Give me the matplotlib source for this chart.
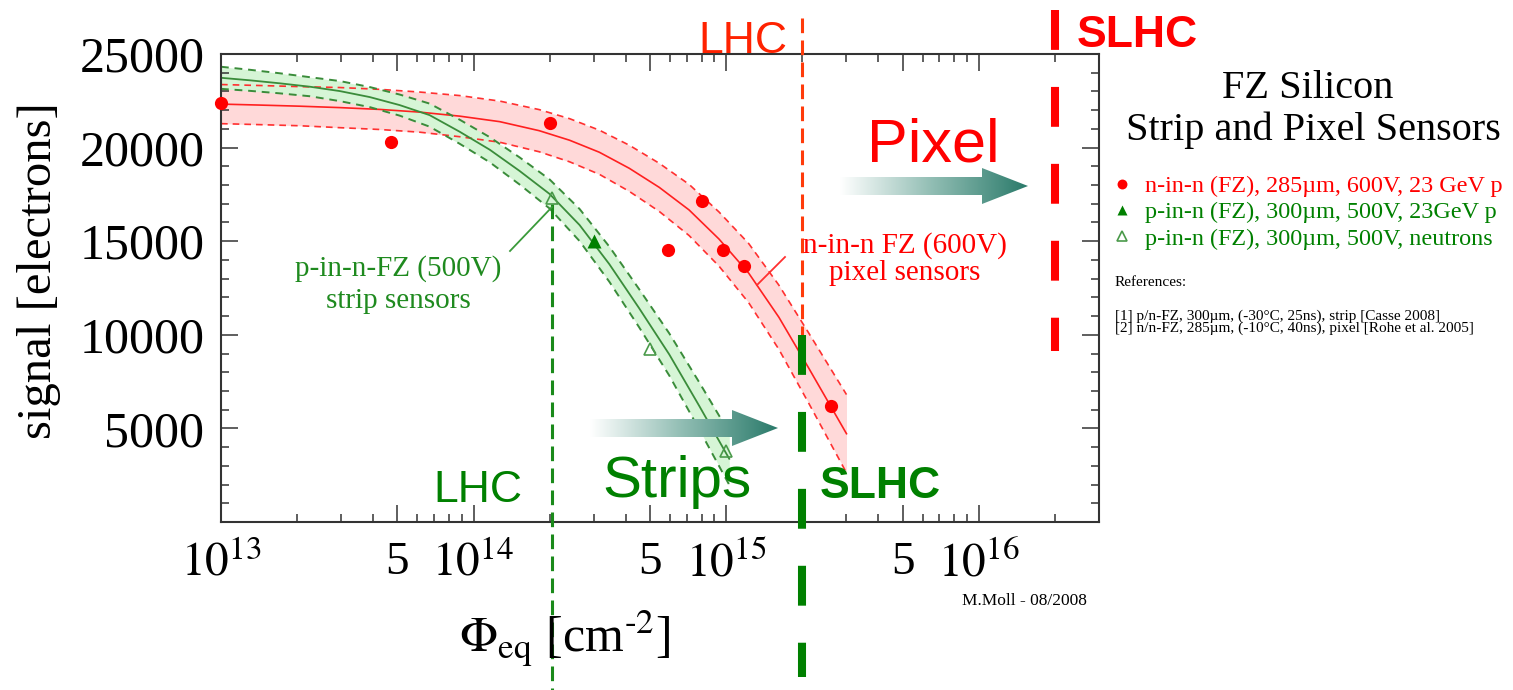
import numpy as np
import matplotlib
matplotlib.use('Agg')
import matplotlib.pyplot as plt
from matplotlib.patches import Polygon
from matplotlib.colors import LinearSegmentedColormap
from matplotlib.ticker import FixedLocator, FixedFormatter, LogLocator, MultipleLocator, NullFormatter

plt.rcParams['mathtext.fontset'] = 'stix'
SERIF = 'Liberation Serif'
SANS = 'Liberation Sans'

RED = '#ff0000'
GREEN = '#008000'
FIT_GREEN = '#3a8c3a'

# n-in-n FZ, 285um, 600V, 23 GeV protons (pixel)
pix_phi = [1.0e13, 4.7e13, 2.0e14, 5.9e14, 8.0e14, 9.7e14, 1.18e15, 2.6e15]
pix_sig = [22400, 20300, 21300, 14550, 17150, 14550, 13650, 6220]

# p-in-n FZ, 300um, 500V (strip): 23 GeV protons and neutrons
strip_p_phi = [3.0e14]
strip_p_sig = [15000]
strip_n_phi = [2.05e14, 5.0e14, 1.0e15]
strip_n_sig = [17300, 9250, 3800]

# fitted curves with their error bands
pix_fit_phi = [1.0e13, 1.43e13, 2.05e13, 2.95e13, 4.25e13, 6.12e13, 8.81e13, 1.27e14, 1.82e14, 2.4e14,
               3.15e14, 4.14e14, 5.44e14, 7.14e14, 9.38e14, 1.23e15, 1.62e15, 2.13e15, 3.0e15]
pix_fit_mid = [22324, 22271, 22212, 22137, 22040, 21896, 21681, 21386, 20904, 20395,
               19752, 18894, 17876, 16670, 15115, 13293, 10934, 8201, 4717]
pix_fit_hi = [23369, 23316, 23257, 23209, 23112, 22968, 22780, 22485, 22030, 21547,
              20931, 20127, 19162, 18037, 16562, 14874, 12649, 10077, 6807]
pix_fit_lo = [21279, 21226, 21167, 21065, 20968, 20824, 20582, 20287, 19778, 19243,
              18573, 17661, 16590, 15303, 13668, 11712, 9219, 6325, 2627]

strip_fit_phi = [1.0e13, 1.3e13, 1.71e13, 2.25e13, 2.95e13, 3.88e13, 5.1e13, 6.7e13, 8.81e13,
                 1.16e14, 1.52e14, 2.0e14, 2.63e14, 3.45e14, 4.53e14, 5.96e14, 7.82e14, 1.03e15]
strip_fit_mid = [23729, 23595, 23434, 23252, 23021, 22700, 22271, 21735, 20850,
                 19886, 18760, 17527, 15866, 13775, 11417, 8951, 6218, 3377]
strip_fit_hi = [24319, 24158, 23970, 23761, 23557, 23236, 22834, 22351, 21493,
                20556, 19484, 18304, 16724, 14713, 12435, 10077, 7478, 4771]
strip_fit_lo = [23139, 23032, 22898, 22743, 22485, 22164, 21708, 21119, 20207,
                19216, 18036, 16750, 15008, 12837, 10399, 7825, 4958, 1983]

# expected fluences
lhc_strip = 2.05e14
lhc_pixel = 2.0e15
slhc_strip = 2.0e15
slhc_pixel = 2.0e16

xtick_pos = [1e13, 5e13, 1e14, 5e14, 1e15, 5e15, 1e16]
xtick_labels = ['$10^{13}$', '5', '$10^{14}$', '5', '$10^{15}$', '5', '$10^{16}$']
ytick_pos = [5000, 10000, 15000, 20000, 25000]
ytick_labels = ['5000', '10000', '15000', '20000', '25000']

W, H = 1513, 690
fig = plt.figure(figsize=(W / 100, H / 100), dpi=100)
ax = fig.add_axes([221 / W, 1 - 522 / H, 878 / W, 468 / H])

# error bands and fits
ax.fill_between(pix_fit_phi, pix_fit_lo, pix_fit_hi, color='#ffd9d9', lw=0, zorder=1)
ax.fill_between(strip_fit_phi, strip_fit_lo, strip_fit_hi, color='#d6f5d6', lw=0, zorder=1)
for ys in (pix_fit_hi, pix_fit_lo):
    ax.plot(pix_fit_phi, ys, color='#ff3030', lw=1.2, ls=(0, (4, 3)), zorder=2)
ax.plot(pix_fit_phi, pix_fit_mid, color='#ff2020', lw=1.2, zorder=2)
for ys in (strip_fit_hi, strip_fit_lo):
    ax.plot(strip_fit_phi, ys, color=FIT_GREEN, lw=1.4, ls=(0, (4, 3)), zorder=2)
ax.plot(strip_fit_phi, strip_fit_mid, color=FIT_GREEN, lw=1.3, zorder=2)

h_pix, = ax.plot(pix_phi, pix_sig, 'o', color=RED, ms=9.5, mec='none', zorder=4, clip_on=False)
h_sp, = ax.plot(strip_p_phi, strip_p_sig, '^', color=GREEN, ms=9.5, mec='none', zorder=4)
h_sn, = ax.plot(strip_n_phi, strip_n_sig, '^', mfc='none', mec='#4a9a4a', mew=1.2, ms=9, zorder=4)

# LHC / SLHC fluence markers
ax.plot([lhc_strip, lhc_strip], [17000, -9500], color='#1a8a1a', lw=2.2,
        ls=(0, (4.8, 2.4)), clip_on=False, zorder=3)
ax.plot([lhc_pixel, lhc_pixel], [26900, 8600], color='#ff3b0a', lw=2.2,
        ls=(0, (4.8, 2.4)), clip_on=False, zorder=3)
ax.plot([slhc_strip, slhc_strip], [10000, -8300], color=GREEN, lw=5.8,
        ls=(0, (4.95, 4.6)), dash_capstyle='butt', clip_on=False, zorder=6)
ax.plot([slhc_pixel, slhc_pixel], [27350, 9110], color=RED, lw=5.8,
        ls=(0, (4.95, 4.6)), dash_capstyle='butt', clip_on=False, zorder=6)

ax.set_xscale('log')
ax.set_xlim(1e13, 3e16)
ax.set_ylim(0, 25000)
ax.xaxis.set_major_locator(FixedLocator(xtick_pos))
ax.xaxis.set_major_formatter(FixedFormatter(xtick_labels))
ax.xaxis.set_minor_locator(LogLocator(base=10, subs=(2, 3, 4, 6, 7, 8, 9), numticks=30))
ax.xaxis.set_minor_formatter(NullFormatter())
ax.yaxis.set_major_locator(FixedLocator(ytick_pos))
ax.yaxis.set_major_formatter(FixedFormatter(ytick_labels))
ax.yaxis.set_minor_locator(MultipleLocator(1000))
ax.tick_params(which='both', direction='in', top=True, right=True, color='#333333', width=1.1)
ax.tick_params(which='major', length=12)
ax.tick_params(which='minor', length=6)
ax.tick_params(axis='x', pad=14, labelsize=34)
ax.tick_params(axis='y', pad=12, labelsize=36)
for lab in ax.get_xticklabels() + ax.get_yticklabels():
    lab.set_family(SERIF)
for sp in ax.spines.values():
    sp.set_color('#333333')
    sp.set_linewidth(1.5)

ax.text(-0.207, 0.538, 'signal [electrons]', transform=ax.transAxes, rotation=90,
        ha='center', va='center', fontsize=35, family=SERIF)
ax.text(0.392, -0.25, r'$\Phi_{\mathrm{eq}}$ [cm$^{\text{-}2}$]', transform=ax.transAxes,
        ha='center', va='center', fontsize=36, family=SERIF)

# legend for the three data sets
leg = ax.legend([h_pix, h_sp, h_sn],
                ['n-in-n (FZ), 285µm, 600V, 23 GeV p',
                 'p-in-n (FZ), 300µm, 500V, 23GeV p',
                 'p-in-n (FZ), 300µm, 500V, neutrons'],
                loc='upper left', bbox_to_anchor=(1098 / W, 1 - 163 / H),
                bbox_transform=fig.transFigure, frameon=False, borderpad=0,
                handlelength=1.0, handletextpad=0.45, labelspacing=0.18,
                markerscale=0.75, prop={'family': SERIF, 'size': 17.4},
                labelcolor=[RED, GREEN, GREEN])

# overlay in pixel coordinates for annotations
ov = fig.add_axes([0, 0, 1, 1], zorder=5)
ov.axis('off')

arrow_cmap = LinearSegmentedColormap.from_list('fade', ['#ffffff', '#8fbcb2', '#2a7a6a'])


def grad_arrow(axo, x0, x1, yc, shaft=9, head=18, head_len=46):
    xb = x1 - head_len
    verts = [(x0, yc - shaft), (xb, yc - shaft), (xb, yc - head), (x1, yc),
             (xb, yc + head), (xb, yc + shaft), (x0, yc + shaft)]
    poly = Polygon(verts, closed=True, facecolor='none', edgecolor='none')
    axo.add_patch(poly)
    grad = np.linspace(0, 1, 256).reshape(1, -1)
    im = axo.imshow(grad, cmap=arrow_cmap, extent=[x0, x1, yc + head, yc - head],
                    aspect='auto', interpolation='bilinear')
    im.set_clip_path(poly)


grad_arrow(ov, 840, 1028, 186)
grad_arrow(ov, 590, 778, 428)

ov.plot([510, 552], [251, 207], color='#3a9a3a', lw=1.3)
ov.plot([757, 785], [285, 257], color='#ff3030', lw=1.3)

ov.text(398, 276, 'p-in-n-FZ (500V)', color='#1f8a1f', fontsize=21, family=SERIF, ha='center', va='baseline')
ov.text(398, 308, 'strip sensors', color='#1f8a1f', fontsize=21, family=SERIF, ha='center', va='baseline')
ov.text(905, 253, 'n-in-n FZ (600V)', color=RED, fontsize=21, family=SERIF, ha='center', va='baseline')
ov.text(905, 280, 'pixel sensors', color=RED, fontsize=21, family=SERIF, ha='center', va='baseline')

ov.text(743, 53, 'LHC', color='#ff2200', fontsize=32, family=SANS, ha='center', va='baseline')
ov.text(1137, 47, 'SLHC', color=RED, fontsize=32, family=SANS, weight='bold', ha='center', va='baseline')
ov.text(933, 162, 'Pixel', color=RED, fontsize=44, family=SANS, ha='center', va='baseline')
ov.text(677, 497, 'Strips', color=GREEN, fontsize=42, family=SANS, ha='center', va='baseline')
ov.text(478, 502, 'LHC', color=GREEN, fontsize=32, family=SANS, ha='center', va='baseline')
ov.text(880, 498, 'SLHC', color=GREEN, fontsize=32, family=SANS, weight='bold', ha='center', va='baseline')

ov.text(1308, 98, 'FZ Silicon', fontsize=29, family=SERIF, ha='center', va='baseline')
ov.text(1313, 140, 'Strip and Pixel Sensors', fontsize=29, family=SERIF, ha='center', va='baseline')
ov.text(1115, 286, 'References:', fontsize=11, family=SERIF, ha='left', va='baseline')
ov.text(1115, 320, '[1] p/n-FZ, 300µm, (-30°C, 25ns), strip [Casse 2008]', fontsize=11,
        family=SERIF, ha='left', va='baseline')
ov.text(1115, 332, '[2] n/n-FZ, 285µm, (-10°C, 40ns), pixel [Rohe et al. 2005]', fontsize=11,
        family=SERIF, ha='left', va='baseline')
ov.text(1024, 605, 'M.Moll - 08/2008', fontsize=12.5, family=SERIF, ha='center', va='baseline')

ov.set_xlim(0, W)
ov.set_ylim(H, 0)

fig.savefig('out.png', dpi=100)
